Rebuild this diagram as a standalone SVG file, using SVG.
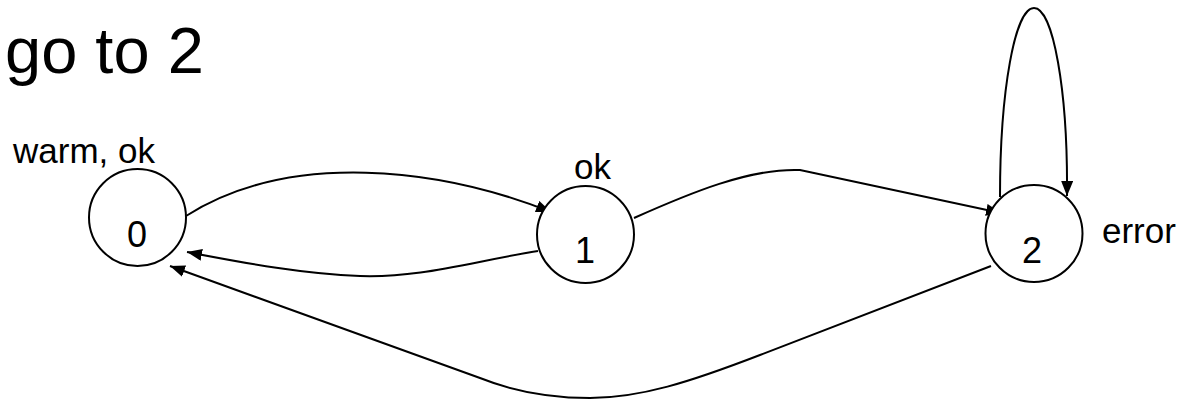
<svg xmlns="http://www.w3.org/2000/svg" width="1182" height="400" viewBox="0 0 1182 400">
  <style>
    text { font-family: "Liberation Sans", Arial, sans-serif; fill: #000; }
    .title { font-size: 65px; }
    .label { font-size: 35px; }
    .num { font-size: 36px; text-anchor: middle; }
    .state { fill: #fff; stroke: #000; stroke-width: 2; }
    .edge { fill: none; stroke: #000; stroke-width: 2; marker-end: url(#arrow); }
  </style>
  <defs>
    <marker id="arrow" markerUnits="userSpaceOnUse" markerWidth="16" markerHeight="12" refX="15" refY="6" orient="auto">
      <path d="M0,0 L15,6 L0,12 z" fill="#000"/>
    </marker>
  </defs>

  <rect width="1182" height="400" fill="#fff"/>

  <text class="title" x="5" y="73">go to 2</text>

  <!-- transitions -->
  <g id="edges">
    <path class="edge" d="M186,216 C290,150 440,168 551,212"/>
    <path class="edge" d="M538,251 C470,262 420,278 360,276 C300,274 240,262 187,252"/>
    <path class="edge" d="M634,218 C690,193 750,168 800,170 L1001,213"/>
    <path class="edge" d="M991,266 L760,355 C690,382 640,398 590,398 C545,398 510,390 480,378 L170,266"/>
    <path class="edge" d="M1000,197 C1000,90 1015,8 1034,8 C1053,8 1068,90 1067,196"/>
  </g>

  <!-- states -->
  <g id="state0">
    <circle class="state" cx="137.5" cy="217.5" r="48.5"/>
    <text class="num" x="137" y="247">0</text>
    <text class="label" x="13" y="163">warm, ok</text>
  </g>
  <g id="state1">
    <circle class="state" cx="585.5" cy="234.5" r="48.5"/>
    <text class="num" x="585" y="263">1</text>
    <text class="label" x="574" y="179">ok</text>
  </g>
  <g id="state2">
    <circle class="state" cx="1034" cy="233.5" r="48.5"/>
    <text class="num" x="1032" y="263">2</text>
    <text class="label" x="1102" y="243">error</text>
  </g>
</svg>
